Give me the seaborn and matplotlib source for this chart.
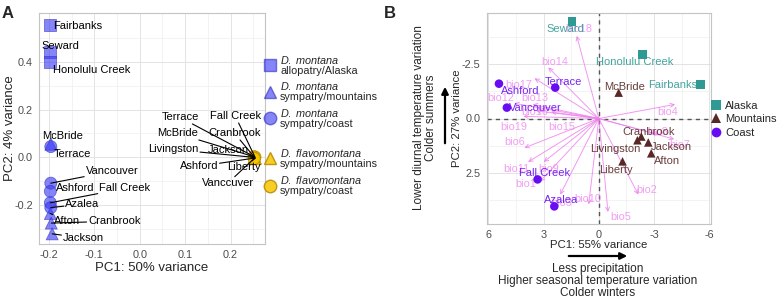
import numpy as np
import pandas as pd
import matplotlib
matplotlib.use("Agg")
import matplotlib.pyplot as plt
from matplotlib.lines import Line2D
import seaborn as sns

sns.set_style("whitegrid")
plt.rcParams["font.family"] = ["Liberation Sans", "DejaVu Sans"]
plt.rcParams["mathtext.fontset"] = "custom"
plt.rcParams["mathtext.it"] = "Liberation Sans:italic"
plt.rcParams["mathtext.rm"] = "Liberation Sans"

# ── Panel A: genomic PCA ─────────────────────────────────────────────────────
mont_site = ["Fairbanks", "Seward", "Honolulu Creek", "McBride", "Afton", "Cranbrook",
             "Jackson", "Terrace", "Vancouver", "Ashford", "Fall Creek", "Azalea"]
mont_group = ["Alaska"] * 3 + ["mountains"] * 4 + ["coast"] * 5
mont_pc1 = [-0.197, -0.197, -0.197, -0.196, -0.197, -0.195, -0.193,
            -0.196, -0.196, -0.197, -0.197, -0.196]
mont_pc2 = [0.555, 0.44, 0.40, 0.055, -0.235, -0.275, -0.32,
            0.045, -0.108, -0.142, -0.19, -0.21]

flav_site = ["McBride", "Cranbrook", "Livingston", "Jackson", "Liberty",
             "Terrace", "Fall Creek", "Ashford", "Vanccuver"]
flav_group = ["mountains"] * 5 + ["coast"] * 4
flav_pc1 = [0.253, 0.254, 0.252, 0.255, 0.253, 0.252, 0.254, 0.253, 0.252]
flav_pc2 = [0.002, -0.002, 0.0, -0.004, -0.006, 0.003, 0.001, -0.003, -0.005]

# ── Panel B: environmental PCA ───────────────────────────────────────────────
env_site = ["Seward", "Honolulu Creek", "Fairbanks", "McBride", "Cranbrook", "Livingston",
            "Jackson", "Afton", "Liberty", "Ashford", "Terrace", "Vancouver",
            "Fall Creek", "Azalea"]
env_group = ["Alaska"] * 3 + ["Mountains"] * 6 + ["Coast"] * 5
env_pc1 = [1.45, -2.37, -5.54, -1.08, -2.31, -2.10, -2.69, -2.85, -1.29,
           5.43, 2.37, 5.0, 3.33, 2.42]
env_pc2 = [-4.45, -2.94, -1.56, -1.19, 0.83, 1.0, 1.10, 1.6, 1.97,
           -1.6, -1.42, -0.5, 2.8, 4.04]

bio_var = [f"bio{i}" for i in range(1, 20)]
bio_pc1 = [3.2, -2.15, 2.1, -4.15, -0.5, 4.05, -4.1, -3.3, 3.0, 0.55,
           3.85, 4.6, 3.6, 2.75, 2.6, 3.4, 3.5, 1.2, 4.1]
bio_pc2 = [2.9, 3.5, 3.5, -0.65, 4.3, 1.35, 0.95, 0.75, 2.0, 3.95,
           2.0, -0.7, -0.65, -2.35, -0.3, -0.35, -1.85, -3.8, -0.1]

# repelled label positions (layout only)
lab_mont = {"Fairbanks": (-0.137, 0.55), "Seward": (-0.174, 0.467),
            "Honolulu Creek": (-0.107, 0.367), "McBride": (-0.17, 0.0875),
            "Terrace": (-0.148, 0.0125), "Vancouver": (-0.061, -0.058),
            "Ashford": (-0.143, -0.13), "Fall Creek": (-0.033, -0.13),
            "Azalea": (-0.126, -0.196), "Afton": (-0.161, -0.267),
            "Cranbrook": (-0.056, -0.267), "Jackson": (-0.124, -0.3375)}
no_seg = {"Fairbanks", "Seward", "Honolulu Creek", "McBride", "Terrace", "Ashford"}
lab_flav = {"Terrace": (0.089, 0.167), "Fall Creek": (0.211, 0.171),
            "McBride": (0.083, 0.10), "Cranbrook": (0.209, 0.10),
            "Livingston": (0.074, 0.033), "Jackson": (0.196, 0.03),
            "Ashford": (0.130, -0.0375), "Liberty": (0.230, -0.042),
            "Vanccuver": (0.194, -0.108)}
lab_env = {"Seward": (1.83, -4.13), "Honolulu Creek": (-1.94, -2.61),
           "Fairbanks": (-4.03, -1.56), "McBride": (-1.40, -1.47),
           "Cranbrook": (-2.69, 0.64), "Livingston": (-0.91, 1.42),
           "Jackson": (-3.92, 1.33), "Afton": (-3.71, 1.97), "Liberty": (-0.91, 2.39),
           "Ashford": (4.30, -1.28), "Terrace": (1.94, -1.70), "Vancouver": (3.44, -0.5),
           "Fall Creek": (2.96, 2.52), "Azalea": (2.04, 3.76)}
lab_bio = {"bio1": (3.98, 3.03), "bio2": (-2.58, 3.3), "bio3": (2.0, 3.9),
           "bio4": (-3.76, -0.32), "bio5": (-1.18, 4.54), "bio6": (4.57, 1.1),
           "bio7": (-4.41, 1.24), "bio8": (-3.2, 0.6), "bio9": (2.74, 2.3),
           "bio10": (0.59, 3.72), "bio11": (4.46, 2.3), "bio12": (5.32, -0.92),
           "bio13": (3.49, -0.92), "bio14": (2.42, -2.61), "bio15": (2.04, 0.37),
           "bio16": (3.49, -0.28), "bio17": (4.35, -1.56), "bio18": (1.08, -4.13),
           "bio19": (4.62, 0.37)}

MONT = "#3a3af5"
FLAV = "#f7c600"
GRP_COL = {"Alaska": "#2f9a94", "Mountains": "#5a2727", "Coast": "#6a0cf2"}
BIO = "#ee7eee"
TICK = "#4d4d4d"

df_a = pd.concat([
    pd.DataFrame({"site": mont_site, "group": mont_group, "pc1": mont_pc1,
                  "pc2": mont_pc2, "species": "montana"}),
    pd.DataFrame({"site": flav_site, "group": flav_group, "pc1": flav_pc1,
                  "pc2": flav_pc2, "species": "flavomontana"}),
], ignore_index=True)
df_b = pd.DataFrame({"site": env_site, "group": env_group, "pc1": env_pc1, "pc2": env_pc2})

fig = plt.figure(figsize=(7.8, 3.0), dpi=100)
ax_a = fig.add_axes([39 / 780, 1 - 244 / 300, 226 / 780, 231 / 300])
ax_b = fig.add_axes([487 / 780, 1 - 224 / 300, 224 / 780, 211 / 300])


def style_axes(ax):
    ax.set_facecolor("white")
    ax.grid(which="major", color="#e3e3e3", lw=0.7)
    ax.grid(which="minor", color="#efefef", lw=0.5)
    for s in ax.spines.values():
        s.set_color("#c4c4c4")
        s.set_linewidth(0.8)
    ax.tick_params(which="major", length=2.5, width=0.6, color="#b0b0b0",
                   labelcolor=TICK, labelsize=7.8, pad=2)
    ax.tick_params(which="minor", length=0)
    ax.set_xlabel("")
    ax.set_ylabel("")


# ── draw panel A ──
mk_a = {"Alaska": "s", "mountains": "^", "coast": "o"}
for sp, col, ec, al in [("montana", MONT, "#3030c0", 0.62), ("flavomontana", FLAV, "#b58a00", 0.8)]:
    sub = df_a[df_a.species == sp]
    sns.scatterplot(data=sub, x="pc1", y="pc2", style="group", markers=mk_a,
                    color=col, edgecolor=ec, linewidth=0.6, alpha=al, s=75,
                    legend=False, ax=ax_a, zorder=3)

ax_a.set_xlim(-0.222, 0.276)
ax_a.set_ylim(-0.3625, 0.604)
ax_a.set_xticks([-0.2, -0.1, 0.0, 0.1, 0.2], ["-0.2", "-0.1", "0.0", "0.1", "0.2"])
ax_a.set_yticks([-0.2, 0.0, 0.2, 0.4], ["-0.2", "0.0", "0.2", "0.4"])
ax_a.set_xticks(np.arange(-0.15, 0.3, 0.1), minor=True)
ax_a.set_yticks(np.arange(-0.3, 0.6, 0.1), minor=True)
style_axes(ax_a)

texts_a = []
for _, r in df_a.iterrows():
    pos = (lab_mont if r.species == "montana" else lab_flav)[r.site]
    t = ax_a.text(pos[0], pos[1], r.site, fontsize=8, ha="center", va="center",
                  color="black", zorder=5)
    if not (r.species == "montana" and r.site in no_seg):
        texts_a.append((t, r.pc1, r.pc2))

fig.canvas.draw()
renderer = fig.canvas.get_renderer()
for t, px, py in texts_a:
    bb = t.get_window_extent(renderer)
    x0, y0, x1, y1 = bb.x0 - 1.5, bb.y0 - 1.5, bb.x1 + 1.5, bb.y1 + 1.5
    P = ax_a.transData.transform((px, py))
    C = np.array([(x0 + x1) / 2, (y0 + y1) / 2])
    d = C - P
    tx = ((x0 if d[0] > 0 else x1) - P[0]) / d[0] if d[0] != 0 else -np.inf
    ty = ((y0 if d[1] > 0 else y1) - P[1]) / d[1] if d[1] != 0 else -np.inf
    tt = max(tx, ty)
    if tt <= 0:
        continue
    E = ax_a.transData.inverted().transform(P + tt * d)
    ax_a.plot([px, E[0]], [py, E[1]], color="black", lw=0.8, zorder=4)

fig.text(152 / 780, 1 - 268 / 300, "PC1: 50% variance", fontsize=9.5, ha="center", va="center")
fig.text(10 / 780, 1 - 128 / 300, "PC2: 4% variance", fontsize=9.5, ha="center", va="center",
         rotation=90)
fig.text(8 / 780, 1 - 14 / 300, "A", fontsize=12, fontweight="bold", ha="center", va="center")

# legend A
h_mont = [Line2D([], [], ls="none", marker=m, markersize=9, markerfacecolor=MONT,
                 markeredgecolor="#3030c0", alpha=0.62) for m in ["s", "^", "o"]]
l_mont = [r"$\mathit{D.\ montana}$" + "\n" + g for g in
          ["allopatry/Alaska", "sympatry/mountains", "sympatry/coast"]]
h_flav = [Line2D([], [], ls="none", marker=m, markersize=9, markerfacecolor=FLAV,
                 markeredgecolor="#b58a00", alpha=0.85) for m in ["^", "o"]]
l_flav = [r"$\mathit{D.\ flavomontana}$" + "\n" + g for g in
          ["sympatry/mountains", "sympatry/coast"]]
leg1 = fig.legend(h_mont, l_mont, loc="upper left", bbox_to_anchor=(265 / 780, 1 - 54 / 300),
                  frameon=False, fontsize=7.8, handlelength=1.0, handletextpad=0.4,
                  labelspacing=0.4, borderpad=0, borderaxespad=0)
leg2 = fig.legend(h_flav, l_flav, loc="upper left", bbox_to_anchor=(265 / 780, 1 - 147 / 300),
                  frameon=False, fontsize=7.8, handlelength=1.0, handletextpad=0.4,
                  labelspacing=0.5, borderpad=0, borderaxespad=0)
for lg in (leg1, leg2):
    for t in lg.get_texts():
        t.set_linespacing(1.0)

# ── draw panel B ──
ax_b.axhline(0, color="#555555", lw=1.0, ls=(0, (3, 3)), zorder=1)
ax_b.axvline(0, color="#555555", lw=1.0, ls=(0, (3, 3)), zorder=1)
for v, x, y in zip(bio_var, bio_pc1, bio_pc2):
    ax_b.annotate("", xy=(x, y), xytext=(0, 0),
                  arrowprops=dict(arrowstyle="->", color=BIO, lw=0.7, alpha=0.8,
                                  shrinkA=0, shrinkB=0, mutation_scale=7), zorder=2)
    lx, ly = lab_bio[v]
    ax_b.text(lx, ly, v, fontsize=7.8, color=BIO, alpha=0.75, ha="center", va="center", zorder=2)

sns.scatterplot(data=df_b, x="pc1", y="pc2", hue="group", style="group",
                palette=GRP_COL, markers={"Alaska": "s", "Mountains": "^", "Coast": "o"},
                s=38, linewidth=0, legend=False, ax=ax_b, zorder=3)
for s, g in zip(env_site, env_group):
    lx, ly = lab_env[s]
    ax_b.text(lx, ly, s, fontsize=8, color=GRP_COL[g], alpha=0.9, ha="center", va="center",
              zorder=4)

ax_b.set_xlim(6.08, -6.1)
ax_b.set_ylim(4.85, -4.85)
ax_b.set_xticks([6, 3, 0, -3, -6], ["6", "3", "0", "-3", "-6"])
ax_b.set_yticks([-2.5, 0, 2.5], ["-2.5", "0.0", "2.5"])
ax_b.set_xticks([4.5, 1.5, -1.5, -4.5], minor=True)
ax_b.set_yticks([-3.75, -1.25, 1.25, 3.75], minor=True)
style_axes(ax_b)

h_b = [Line2D([], [], ls="none", marker=m, markersize=7, markerfacecolor=GRP_COL[g],
              markeredgewidth=0) for g, m in [("Alaska", "s"), ("Mountains", "^"), ("Coast", "o")]]
fig.legend(h_b, ["Alaska", "Mountains", "Coast"], loc="upper left",
           bbox_to_anchor=(712 / 780, 1 - 101 / 300), frameon=False, fontsize=8,
           handlelength=0.8, handletextpad=0.4, labelspacing=0.3, borderpad=0,
           borderaxespad=0)

fig.text(390 / 780, 1 - 14 / 300, "B", fontsize=12, fontweight="bold", ha="center", va="center")
fig.text(599 / 780, 1 - 245 / 300, "PC1: 55% variance", fontsize=8.2, ha="center", va="center")
fig.text(598 / 780, 1 - 281 / 300,
         "Less precipitation\nHigher seasonal temperature variation\nColder winters",
         fontsize=8.5, ha="center", va="center", linespacing=1.05)
fig.text(457 / 780, 1 - 118 / 300, "PC2: 27% variance", fontsize=8.2, ha="center",
         va="center", rotation=90)
fig.text(425 / 780, 1 - 118 / 300, "Lower diurnal temperature variation\nColder summers",
         fontsize=8.5, ha="center", va="center", rotation=90, linespacing=1.05)
fig.add_artist(matplotlib.patches.FancyArrowPatch(
    (445 / 780, 1 - 146 / 300), (445 / 780, 1 - 84 / 300), transform=fig.transFigure,
    arrowstyle="-|>", mutation_scale=10, lw=1.6, color="black"))
fig.add_artist(matplotlib.patches.FancyArrowPatch(
    (566 / 780, 1 - 256 / 300), (630 / 780, 1 - 256 / 300), transform=fig.transFigure,
    arrowstyle="-|>", mutation_scale=10, lw=1.6, color="black"))

fig.savefig("out.png", dpi=100)
